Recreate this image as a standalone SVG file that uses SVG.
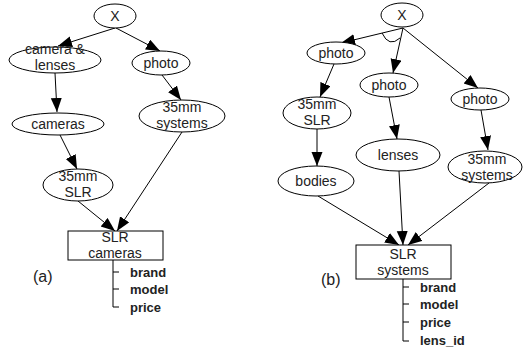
<svg xmlns="http://www.w3.org/2000/svg" width="523" height="352" viewBox="0 0 523 352">
<defs>
<marker id="ah" markerUnits="userSpaceOnUse" markerWidth="15" markerHeight="12" refX="14" refY="5.5" orient="auto">
<path d="M0,0 L14,5.5 L0,11 z" fill="#000"/>
</marker>
<style>
ellipse, rect { fill: #fff; stroke: #000; stroke-width: 1; }
text { font-family: "Liberation Sans", Arial, sans-serif; font-size: 14px; fill: #222; text-anchor: middle; }
.attr { font-weight: bold; font-size: 13px; text-anchor: start; }
.lbl { font-size: 16px; text-anchor: start; }
.e { stroke: #000; stroke-width: 1; fill: none; marker-end: url(#ah); }
.t { stroke: #000; stroke-width: 1; fill: none; }
</style>
</defs>
<rect x="0" y="0" width="523" height="352" style="fill:#fff;stroke:none"/>

<g id="connectors">
<line class="e" x1="115" y1="28" x2="58" y2="46"/>
<line class="e" x1="116" y1="28" x2="160" y2="51"/>
<line class="e" x1="55" y1="73" x2="57" y2="112"/>
<line class="e" x1="60" y1="135" x2="77" y2="169"/>
<line class="e" x1="162" y1="75" x2="181" y2="100"/>
<line class="e" x1="78" y1="201" x2="115" y2="231"/>
<line class="e" x1="182" y1="132" x2="117" y2="231"/>

<line class="e" x1="403" y1="28" x2="341" y2="43"/>
<line class="e" x1="403" y1="28" x2="393" y2="73"/>
<line class="e" x1="403" y1="28" x2="478" y2="88"/>
<line class="e" x1="334" y1="64" x2="320" y2="97"/>
<line class="e" x1="389" y1="97" x2="397" y2="139"/>
<line class="e" x1="481" y1="110" x2="488" y2="150"/>
<line class="e" x1="317" y1="129" x2="317" y2="166"/>
<line class="e" x1="318" y1="196" x2="399" y2="245"/>
<line class="e" x1="399" y1="171" x2="403" y2="245"/>
<line class="e" x1="489" y1="183" x2="408" y2="245"/>
<path class="t" d="M382,33 Q389,48 400,38"/>

<path class="t" d="M113,260 V307 M113,272 H119 M113,289 H119 M113,307 H119"/>
<path class="t" d="M403,279 V341 M403,287 H409 M403,304 H409 M403,322 H409 M403,341 H409"/>
</g>

<g id="a_X"><ellipse cx="115" cy="16" rx="21" ry="12"/><text x="115" y="21">X</text></g>
<g id="a_camera_lenses"><ellipse cx="55" cy="60" rx="46" ry="13"/><text x="55" y="54">camera &amp;</text><text x="55" y="70">lenses</text></g>
<g id="a_photo"><ellipse cx="161" cy="63" rx="29" ry="12"/><text x="161" y="68">photo</text></g>
<g id="a_cameras"><ellipse cx="58" cy="124" rx="46" ry="11"/><text x="58" y="129">cameras</text></g>
<g id="a_35mm_systems"><ellipse cx="182" cy="116" rx="43" ry="16"/><text x="182" y="112">35mm</text><text x="182" y="128">systems</text></g>
<g id="a_35mm_SLR"><ellipse cx="78" cy="185" rx="35" ry="16"/><text x="78" y="181">35mm</text><text x="78" y="197">SLR</text></g>
<g id="a_SLR_cameras"><rect x="68" y="231" width="95" height="29"/><text x="115" y="242">SLR</text><text x="115" y="258">cameras</text></g>
<g id="a_attrs"><text class="attr" x="130" y="277">brand</text><text class="attr" x="130" y="294">model</text><text class="attr" x="130" y="312">price</text></g>
<g id="a_label"><text class="lbl" x="33" y="282">(a)</text></g>

<g id="b_X"><ellipse cx="402" cy="15" rx="21" ry="12"/><text x="402" y="20">X</text></g>
<g id="b_photo1"><ellipse cx="336" cy="53" rx="29" ry="11"/><text x="336" y="58">photo</text></g>
<g id="b_photo2"><ellipse cx="389" cy="85" rx="29" ry="12"/><text x="389" y="90">photo</text></g>
<g id="b_photo3"><ellipse cx="480" cy="99" rx="29" ry="11"/><text x="480" y="104">photo</text></g>
<g id="b_35mm_SLR"><ellipse cx="317" cy="113" rx="34" ry="16"/><text x="317" y="109">35mm</text><text x="317" y="125">SLR</text></g>
<g id="b_lenses"><ellipse cx="398" cy="155" rx="42" ry="16"/><text x="398" y="160">lenses</text></g>
<g id="b_35mm_systems"><ellipse cx="485" cy="167" rx="37" ry="16"/><text x="487" y="164">35mm</text><text x="487" y="180">systems</text></g>
<g id="b_bodies"><ellipse cx="316" cy="181" rx="38" ry="15"/><text x="316" y="186">bodies</text></g>
<g id="b_SLR_systems"><rect x="356" y="245" width="95" height="34"/><text x="403" y="259">SLR</text><text x="403" y="275">systems</text></g>
<g id="b_attrs"><text class="attr" x="420" y="292">brand</text><text class="attr" x="420" y="309">model</text><text class="attr" x="420" y="327">price</text><text class="attr" x="420" y="345">lens_id</text></g>
<g id="b_label"><text class="lbl" x="321" y="285">(b)</text></g>
</svg>
